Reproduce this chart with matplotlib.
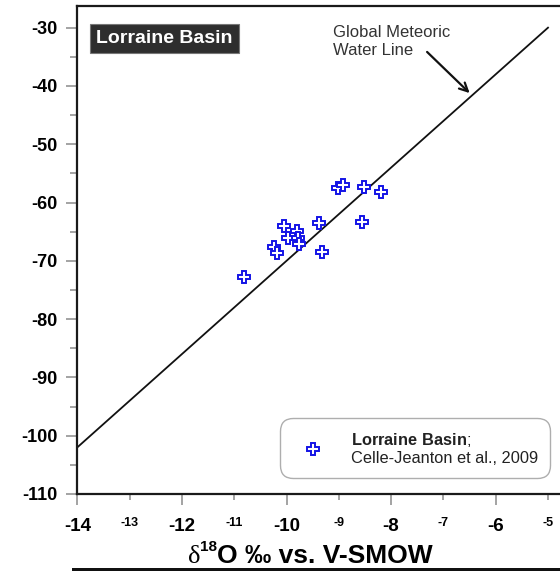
import numpy as np
import matplotlib.pyplot as plt
from matplotlib.ticker import MultipleLocator, FixedLocator, FixedFormatter
from matplotlib.patches import Rectangle

plt.rcParams['font.family'] = ['Liberation Sans', 'DejaVu Sans']
plt.rcParams['mathtext.fontset'] = 'custom'
plt.rcParams['mathtext.rm'] = 'Liberation Sans'
plt.rcParams['mathtext.bf'] = 'Liberation Sans:bold'
plt.rcParams['axes.unicode_minus'] = False

# Lorraine Basin samples (d18O, d2H)
d18o = [-10.81, -10.24, -10.18, -10.05, -9.97, -9.80, -9.78, -9.76,
        -9.38, -9.32, -9.02, -8.92, -8.52, -8.19, -8.56]
d2h = [-72.8, -67.6, -68.7, -64.0, -66.1, -64.9, -66.1, -67.1,
       -63.5, -68.5, -57.5, -57.0, -57.3, -58.2, -63.3]

# global meteoric water line end points
gmwl_x = [-14, -5]
gmwl_y = [-102, -30]

x_major = [-14, -12, -10, -8, -6]
x_minor = [-13, -11, -9, -7, -5]
y_major = [-30, -40, -50, -60, -70, -80, -90, -100, -110]

blue = '#1414e6'
tickc = '#8a8a8a'

fig = plt.figure(figsize=(5.6, 5.71), dpi=100)
ax = fig.add_axes([77.3/560, 77/571, 523/560, 488/571])

ax.plot(gmwl_x, gmwl_y, color='#111111', lw=1.3, zorder=2)
ax.plot(d18o, d2h, ls='none', marker='P', ms=9, mfc='white', mec=blue,
        mew=1.4, zorder=3, label=r'$\mathbf{Lorraine\ Basin}$;' + '\nCelle-Jeanton et al., 2009')

ax.set_xlim(-14, -4)
ax.set_ylim(-110, -26.28)

for s in ['left', 'bottom', 'top', 'right']:
    ax.spines[s].set_linewidth(1.6)
    ax.spines[s].set_color('#1a1a1a')

ax.xaxis.set_major_locator(FixedLocator(x_major))
ax.xaxis.set_major_formatter(FixedFormatter([str(v) for v in x_major]))
ax.xaxis.set_minor_locator(FixedLocator(x_minor))
ax.xaxis.set_minor_formatter(FixedFormatter([str(v) for v in x_minor]))
ax.yaxis.set_major_locator(FixedLocator(y_major))
ax.yaxis.set_minor_locator(MultipleLocator(5))

ax.tick_params(axis='x', which='major', direction='out', length=8, width=1.1,
               color=tickc, labelsize=13.5, pad=9)
ax.tick_params(axis='x', which='minor', direction='out', length=4.5, width=1.1,
               color=tickc, labelsize=9, pad=12)
ax.tick_params(axis='y', which='major', direction='out', length=8, width=1.1,
               color=tickc, labelsize=13, pad=6)
ax.tick_params(axis='y', which='minor', direction='out', length=5, width=1.1,
               color=tickc)
for lab in ax.get_xticklabels(which='both') + ax.get_yticklabels():
    lab.set_fontweight('bold')

# title box
ax.text(0.1667, 0.933, 'Lorraine Basin', transform=ax.transAxes, color='white',
        fontsize=14, fontweight='bold', ha='center', va='center',
        bbox=dict(boxstyle='square,pad=0.3', fc='#2e2e2e', ec='#777777', lw=0.8))

# GMWL label with arrow
ax.text(-9.11, -29.6, 'Global Meteoric\nWater Line', fontsize=12, color='#333333',
        ha='left', va='top', linespacing=1.25)
ax.annotate('', xy=(-6.46, -41.55), xytext=(-7.35, -33.83),
            arrowprops=dict(arrowstyle='->,head_length=0.6,head_width=0.3',
                            color='#111111', lw=1.6))

leg = ax.legend(loc='lower left', bbox_to_anchor=(0.3876, 0.0328), fontsize=11.75,
                handlelength=2.58, handletextpad=1.04, borderpad=0.74,
                borderaxespad=0, frameon=True, fancybox=True, labelspacing=0.2)
leg.get_frame().set_edgecolor('#9a9a9a')
leg.get_frame().set_linewidth(1.0)
leg.get_frame().set_boxstyle('round,pad=0,rounding_size=0.8')
leg.get_texts()[0].set_color('#222222')

# x axis label built from pieces
t1 = fig.text(188/560, (571-563)/571, '\u03b4', fontsize=19,
              family=['Liberation Serif', 'DejaVu Serif'], va='baseline', ha='left')
t2 = ax.annotate('18', xy=(1, 0.62), xycoords=t1, fontsize=11, fontweight='bold',
                 va='bottom', ha='left')
t3 = ax.annotate('O \u2030 vs. V-SMOW', xy=(1, 0), xycoords=(t2, t1),
                 fontsize=19, fontweight='bold', va='bottom', ha='left')

# thick rule at the bottom edge
fig.add_artist(Rectangle((72/560, 0), 1, 3/571, transform=fig.transFigure,
                         color='#111111', lw=0))

fig.savefig('out.png', dpi=100)
